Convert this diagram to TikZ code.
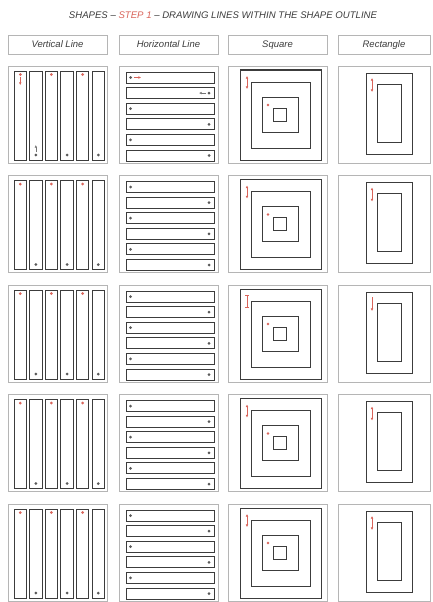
\documentclass[tikz,border=0pt]{standalone}
\usepackage{fontspec}
\setmainfont{Liberation Sans}
\usetikzlibrary{arrows.meta}
\definecolor{accent}{HTML}{D9645A}
\definecolor{frame}{HTML}{B5B5B5}
\definecolor{ink}{HTML}{3C3C3C}
\begin{document}
\begin{tikzpicture}[x=1pt,y=-1pt,
  cellbox/.style={draw=frame,line width=0.7pt},
  headbox/.style={draw=frame,line width=0.7pt,minimum height=19pt,inner sep=0pt,text depth=0pt,font=\fontsize{9.5}{10}\selectfont\itshape\color{ink}},
  shapeline/.style={draw=ink,line width=1pt},
  reddot/.style={fill=accent},
  graydot/.style={fill=ink!85},
  redarrow/.style={draw=accent,line width=0.7pt,{Latex[length=2.6pt,width=2.6pt]}-{Latex[length=2.6pt,width=2.6pt]}},
  redbar/.style={draw=accent,line width=0.7pt,{Bar[width=4pt]}-{Bar[width=4pt]}},
  reddown/.style={draw=accent,line width=0.7pt,-{Latex[length=2.6pt,width=2.6pt]}},
]
\useasboundingbox[fill=white] (0,0) rectangle (433,602);
\node[font=\fontsize{9.6}{11}\selectfont\itshape\color{ink}] (title) at (223,15)
  {SHAPES – \textcolor{accent}{STEP 1} – DRAWING LINES WITHIN THE SHAPE OUTLINE};
\node[headbox,minimum width=99pt] (hv) at (57.5,44.5) {Vertical Line};
\node[headbox,minimum width=99pt] (hh) at (168.5,44.5) {Horizontal Line};
\node[headbox,minimum width=99pt] (hs) at (277.5,44.5) {Square};
\node[headbox,minimum width=92pt] (hr) at (384,44.5) {Rectangle};
\foreach \r in {0,...,4}{
  \pgfmathsetmacro\T{66+109.5*\r}
  \begin{scope}[shift={(0,\T)}]
    % cells
    \draw[cellbox] (8,0) rectangle (107,97);
    \draw[cellbox] (119,0) rectangle (218,97);
    \draw[cellbox] (228,0) rectangle (327,97);
    \draw[cellbox] (338,0) rectangle (430,97);
    % vertical strips
    \foreach \i in {0,...,5}{
      \pgfmathsetmacro\xs{14+15.6*\i}
      \draw[shapeline] (\xs,5) rectangle +(12.5,89);
      \ifodd\i
        \fill[graydot] ({\xs+6.25},89) circle (1.5pt);
      \else
        \fill[reddot] ({\xs+6.25},8.5) circle (1.5pt);
      \fi
    }
    % horizontal bars
    \foreach \j in {0,...,5}{
      \pgfmathsetmacro\ys{6+15.6*\j}
      \draw[shapeline] (126,\ys) rectangle +(88,11);
      \ifodd\j
        \fill[graydot] (209,{\ys+5.5}) circle (1.5pt);
      \else
        \fill[graydot] (130.5,{\ys+5.5}) circle (1.5pt);
      \fi
    }
    % squares
    \draw[shapeline] (240,4) rectangle (321,94);
    \draw[shapeline] (251,16) rectangle (310,82);
    \draw[shapeline] (262,31) rectangle (298,66);
    \draw[shapeline] (273,42) rectangle (286,55);
    \fill[reddot] (268,39) circle (1.4pt);
    % rectangles
    \draw[shapeline] (366,7) rectangle (412,88);
    \draw[shapeline] (377,18) rectangle (401,76);
  \end{scope}
}
% red guide arrows (square and rectangle), row by row
\foreach \r/\sq/\re in {0/redarrow/redarrow,1/redarrow/redarrow,2/redbar/reddown,3/redarrow/redarrow,4/redarrow/redarrow}{
  \pgfmathsetmacro\T{66+109.5*\r}
  \begin{scope}[shift={(0,\T)}]
    \coordinate (sa\r) at (247,10);
    \coordinate (sb\r) at (247,23);
    \draw[\sq] (sa\r) -- (sb\r);
    \coordinate (ra\r) at (372,12);
    \coordinate (rb\r) at (372,26);
    \draw[\re] (ra\r) -- (rb\r);
  \end{scope}
}
% first row extra direction hints
\begin{scope}[shift={(0,66)}]
  \coordinate (v1a) at (20.25,11);
  \coordinate (v1b) at (20.25,19);
  \draw[reddown] (v1a) -- (v1b);
  \coordinate (v2a) at (35.85,86);
  \coordinate (v2b) at (35.85,79);
  \draw[reddown,draw=ink!70] (v2a) -- (v2b);
  \coordinate (h1a) at (134,11.5);
  \coordinate (h1b) at (141,11.5);
  \draw[reddown] (h1a) -- (h1b);
  \coordinate (h2a) at (206,27.1);
  \coordinate (h2b) at (199,27.1);
  \draw[reddown,draw=ink!70] (h2a) -- (h2b);
\end{scope}
\end{tikzpicture}
\end{document}
